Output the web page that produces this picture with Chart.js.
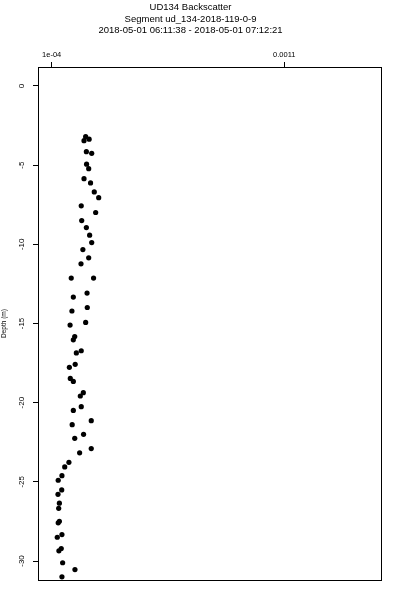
<!DOCTYPE html>
<html><head><meta charset="utf-8">
<script src="https://cdn.jsdelivr.net/npm/chart.js@4/dist/chart.umd.min.js"></script>
<style>html,body{margin:0;padding:0;background:#fff}canvas{display:block}</style>
</head><body>
<canvas id="c" width="400" height="600"></canvas>
<script>
const titleLines = ['UD134 Backscatter', 'Segment ud_134-2018-119-0-9', '2018-05-01 06:11:38 - 2018-05-01 07:12:21'];
const xTicks = [0.0001, 0.0011];
const xTickLabels = ['1e-04', '0.0011'];
const yTicks = [0, -5, -10, -15, -20, -25, -30];
const yTickLabels = ['0', '-5', '-10', '-15', '-20', '-25', '-30'];
const yAxisTitle = 'Depth (m)';
const xRange = [0.0000411, 0.0015157];
const yRange = [-31.2, 1.2];

const depth = [-3.20,-3.45,-3.36,-4.15,-4.25,-4.94,-5.22,-5.85,-6.12,-6.69,-7.05,-7.57,-7.99,-8.50,-8.94,-9.42,-9.89,-10.33,-10.85,-11.23,-12.13,-12.13,-13.08,-13.33,-13.99,-14.21,-14.93,-15.10,-15.82,-16.03,-16.72,-16.86,-17.58,-17.77,-18.47,-18.66,-19.37,-19.58,-20.25,-20.49,-21.14,-21.39,-22.00,-22.25,-22.90,-23.17,-23.77,-24.06,-24.61,-24.90,-25.51,-25.79,-26.35,-26.67,-27.49,-27.59,-28.33,-28.50,-29.21,-29.36,-30.11,-30.54,-31.00];
const backscatter = [2.46e-4,2.39e-4,2.61e-4,2.49e-4,2.72e-4,2.50e-4,2.59e-4,2.39e-4,2.67e-4,2.83e-4,3.02e-4,2.27e-4,2.89e-4,2.29e-4,2.49e-4,2.63e-4,2.72e-4,2.34e-4,2.59e-4,2.26e-4,1.84e-4,2.80e-4,2.52e-4,1.93e-4,2.53e-4,1.87e-4,2.46e-4,1.79e-4,1.99e-4,1.93e-4,2.27e-4,2.06e-4,2.01e-4,1.76e-4,1.80e-4,1.93e-4,2.36e-4,2.23e-4,2.27e-4,1.93e-4,2.70e-4,1.88e-4,2.37e-4,1.99e-4,2.70e-4,2.20e-4,1.74e-4,1.56e-4,1.44e-4,1.28e-4,1.43e-4,1.27e-4,1.33e-4,1.30e-4,1.33e-4,1.28e-4,1.44e-4,1.24e-4,1.41e-4,1.31e-4,1.47e-4,2.00e-4,1.44e-4];

const FONT = "'Liberation Sans', Arial, Helvetica, sans-serif";
Chart.defaults.font.family = FONT;
Chart.defaults.color = '#000';

const TITLE_SIZE = 9.5, TITLE_LH = 1.2, TITLE_PAD_TOP = 2;
const titleHeight = TITLE_PAD_TOP + titleLines.length * TITLE_SIZE * TITLE_LH;

const boxPlugin = {
  id: 'rbox',
  afterDraw(chart) {
    const ctx = chart.ctx, a = chart.chartArea, ys = chart.scales.y;
    ctx.save();
    ctx.strokeStyle = '#000';
    ctx.lineWidth = 1;
    ctx.strokeRect(Math.round(a.left) + 0.5, Math.round(a.top) + 0.5, Math.round(a.right - a.left), Math.round(a.bottom - a.top));
    ctx.fillStyle = '#000';
    ctx.font = '8px ' + FONT;
    ctx.textAlign = 'center';
    ctx.textBaseline = 'middle';
    yTicks.forEach((v, i) => {
      const y = ys.getPixelForValue(v);
      ctx.save();
      ctx.translate(22, y);
      ctx.rotate(-Math.PI / 2);
      ctx.fillText(yTickLabels[i], 0, 0);
      ctx.restore();
    });
    ctx.restore();
  }
};

new Chart(document.getElementById('c').getContext('2d'), {
  type: 'scatter',
  data: {
    datasets: [{
      data: depth.map((d, i) => ({ x: backscatter[i], y: d })),
      backgroundColor: '#000',
      borderColor: '#000',
      borderWidth: 0,
      pointRadius: 2.6,
      pointHoverRadius: 2.6
    }]
  },
  options: {
    responsive: false,
    animation: false,
    events: [],
    layout: { padding: { left: 0, right: 19, top: 0, bottom: 20 } },
    plugins: {
      legend: { display: false },
      tooltip: { enabled: false },
      title: {
        display: true,
        text: titleLines,
        color: '#000',
        font: { size: TITLE_SIZE, weight: 'normal', lineHeight: TITLE_LH },
        padding: { top: TITLE_PAD_TOP, bottom: 0 }
      }
    },
    scales: {
      x: {
        type: 'linear',
        position: 'top',
        min: xRange[0],
        max: xRange[1],
        afterBuildTicks: s => { s.ticks = xTicks.map(v => ({ value: v })); },
        afterFit: s => { s.height = 67 - titleHeight; },
        ticks: {
          callback: (v, i) => xTickLabels[i],
          font: { size: 7.5, lineHeight: 1.2 },
          padding: 2.5,
          maxRotation: 0,
          minRotation: 0,
          autoSkip: false
        },
        grid: { drawOnChartArea: false, drawTicks: true, tickLength: 5, color: '#000', lineWidth: 1 },
        border: { display: false }
      },
      y: {
        type: 'linear',
        min: yRange[0],
        max: yRange[1],
        afterBuildTicks: s => { s.ticks = yTicks.map(v => ({ value: v })); },
        afterFit: s => { s.width = 38; },
        ticks: { display: false },
        grid: { drawOnChartArea: false, drawTicks: true, tickLength: 5, color: '#000', lineWidth: 1 },
        border: { display: false },
        title: { display: true, text: yAxisTitle, font: { size: 6.5 }, padding: { top: 0, bottom: 0 } }
      }
    }
  },
  plugins: [boxPlugin]
});
</script>
</body></html>
